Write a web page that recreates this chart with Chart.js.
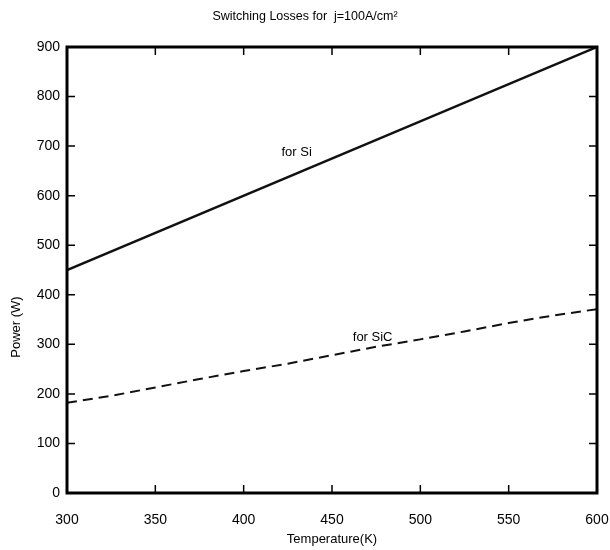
<!DOCTYPE html>
<html>
<head>
<meta charset="utf-8">
<script src="https://cdn.jsdelivr.net/npm/chart.js@4.4.0/dist/chart.umd.min.js"></script>
<style>
  body { margin: 0; background: #fff; }
  #wrap { width: 610px; height: 550px; }
</style>
</head>
<body>
<div id="wrap"><canvas id="myChart"></canvas></div>
<script>
// data
var temps = [300, 325, 350, 375, 400, 425, 450, 475, 500, 525, 550, 575, 600];
var siTemps = [300, 600];
var siPower = [450, 900];
var sicPower = [182, 196, 213, 230, 246, 261, 278, 295, 310, 326, 343, 358, 371];
var xTicks = [300, 350, 400, 450, 500, 550, 600];
var yTicks = [0, 100, 200, 300, 400, 500, 600, 700, 800, 900];

var fontName = "'Liberation Sans', Arial, sans-serif";

// box round the plot, ticks pointing inward, and the text labels
var framePlugin = {
  id: 'frame',
  afterDraw: function(chart) {
    var ctx = chart.ctx;
    var a = chart.chartArea;
    var xs = chart.scales.x;
    var ys = chart.scales.y;
    ctx.save();
    ctx.strokeStyle = '#000';
    ctx.lineWidth = 1.5;
    xTicks.forEach(function(t) {
      var px = xs.getPixelForValue(t);
      ctx.beginPath();
      ctx.moveTo(px, a.bottom); ctx.lineTo(px, a.bottom - 8);
      ctx.moveTo(px, a.top); ctx.lineTo(px, a.top + 8);
      ctx.stroke();
    });
    yTicks.forEach(function(t) {
      var py = ys.getPixelForValue(t);
      ctx.beginPath();
      ctx.moveTo(a.left, py); ctx.lineTo(a.left + 8, py);
      ctx.moveTo(a.right, py); ctx.lineTo(a.right - 8, py);
      ctx.stroke();
    });
    ctx.lineWidth = 3;
    ctx.strokeRect(a.left, a.top, a.right - a.left, a.bottom - a.top);

    ctx.fillStyle = '#000';
    ctx.font = '13px ' + fontName;
    ctx.textAlign = 'center';
    ctx.textBaseline = 'middle';
    ctx.fillText('for Si', xs.getPixelForValue(430), ys.getPixelForValue(688));
    ctx.fillText('for SiC', xs.getPixelForValue(473), ys.getPixelForValue(313));

    // y axis title
    ctx.translate(16, 327);
    ctx.rotate(-Math.PI / 2);
    ctx.fillText('Power (W)', 0, 0);
    ctx.restore();
  }
};

var ctx = document.getElementById('myChart').getContext('2d');
var myChart = new Chart(ctx, {
  type: 'line',
  data: {
    datasets: [
      {
        label: 'for Si',
        data: siTemps.map(function(t, i) { return {x: t, y: siPower[i]}; }),
        borderColor: '#111',
        borderWidth: 2.5,
        pointRadius: 0,
        tension: 0
      },
      {
        label: 'for SiC',
        data: temps.map(function(t, i) { return {x: t, y: sicPower[i]}; }),
        borderColor: '#111',
        borderWidth: 2,
        borderDash: [10, 6],
        pointRadius: 0,
        tension: 0
      }
    ]
  },
  options: {
    responsive: true,
    maintainAspectRatio: false,
    animation: false,
    layout: { padding: { left: 0, right: 0, top: 0, bottom: 0 } },
    plugins: {
      legend: { display: false },
      tooltip: { enabled: false },
      title: {
        display: true,
        text: 'Switching Losses for  j=100A/cm\u00b2',
        color: '#000',
        font: { family: fontName, size: 12.5, weight: 'normal' },
        padding: { top: 9, bottom: 23 }
      }
    },
    scales: {
      x: {
        type: 'linear',
        min: 300,
        max: 600,
        afterBuildTicks: function(s) { s.ticks = xTicks.map(function(v) { return {value: v}; }); },
        afterFit: function(s) { s.height = 57; s.paddingLeft = 0; s.paddingRight = 13; },
        grid: { display: false, drawTicks: false },
        border: { display: false },
        ticks: { color: '#000', padding: 19, maxRotation: 0, font: { family: fontName, size: 14 } },
        title: {
          display: true,
          text: 'Temperature(K)',
          color: '#000',
          font: { family: fontName, size: 13 },
          padding: { top: 0, bottom: 3 }
        }
      },
      y: {
        type: 'linear',
        min: 0,
        max: 900,
        afterBuildTicks: function(s) { s.ticks = yTicks.map(function(v) { return {value: v}; }); },
        afterFit: function(s) { s.width = 67; },
        grid: { display: false, drawTicks: false },
        border: { display: false },
        ticks: { color: '#000', padding: 7, font: { family: fontName, size: 14 } }
      }
    }
  },
  plugins: [framePlugin]
});
</script>
</body>
</html>
